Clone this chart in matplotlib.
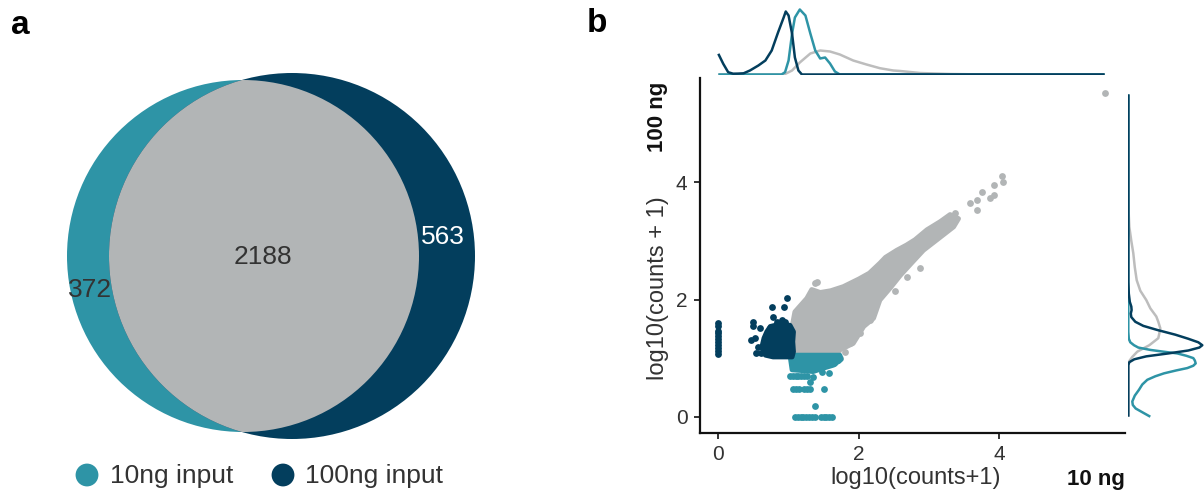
import matplotlib.pyplot as plt
from matplotlib.patches import Circle

plt.rcParams['font.family'] = ['Liberation Sans', 'DejaVu Sans']

TEAL = '#2e94a6'
NAVY = '#033e5d'
GRAY = '#b2b5b6'
GRAY_LINE = '#bdbdbd'
TXT = '#333333'

# ---- panel a: venn counts ----
venn_labels = ['10ng input', '100ng input']
only_10 = 372
both = 2188
only_100 = 563

# ---- panel b: scatter, log10(counts+1) for 10 ng (x) and 100 ng (y) ----
# dense shared genes (outline of the cloud)
gray_cloud_x = [1.07, 1.45, 1.69, 1.73, 1.92, 2.07, 2.21, 2.30, 2.45, 2.59, 2.75, 2.92, 3.20,
                3.35, 3.42, 3.30, 3.16, 2.97, 2.80, 2.68, 2.54, 2.38, 2.30, 2.15, 2.00, 1.78,
                1.60, 1.45, 1.33, 1.26, 1.09, 1.06, 1.06]
gray_cloud_y = [1.02, 1.00, 1.02, 1.14, 1.25, 1.54, 1.68, 1.99, 2.20, 2.41, 2.62, 2.84, 3.10,
                3.24, 3.38, 3.45, 3.33, 3.19, 3.02, 2.93, 2.84, 2.72, 2.62, 2.45, 2.35, 2.22,
                2.15, 2.12, 2.17, 2.02, 1.79, 1.60, 1.30]
gray_pts_x = [1.37, 1.40, 1.73, 1.80, 1.88, 2.02, 2.16, 2.52, 2.68, 2.87, 3.37, 3.58, 3.68,
              3.68, 3.75, 3.87, 3.93, 3.92, 4.04, 4.06, 5.51]
gray_pts_y = [2.28, 2.30, 1.00, 1.10, 1.25, 1.42, 1.65, 2.14, 2.39, 2.53, 3.47, 3.64, 3.70,
              3.53, 3.84, 3.73, 3.78, 3.95, 4.10, 4.01, 5.52]

# genes only detected with 100 ng
navy_core_x = [0.74, 0.88, 1.02, 1.07, 1.06, 1.07, 1.05, 0.78, 0.67, 0.62, 0.65, 0.69]
navy_core_y = [1.54, 1.58, 1.56, 1.45, 1.28, 1.11, 1.02, 1.02, 1.05, 1.19, 1.34, 1.45]
navy_pts_x = [0, 0, 0, 0, 0, 0, 0, 0, 0, 0, 0,
              0.98, 0.77, 0.93, 0.78, 0.90, 0.49, 0.49, 0.60, 0.52, 0.46, 0.57, 0.54, 0.61, 0.74,
              0.84, 0.70, 0.95]
navy_pts_y = [1.07, 1.12, 1.17, 1.22, 1.27, 1.32, 1.37, 1.42, 1.47, 1.55, 1.60,
              2.03, 1.87, 1.88, 1.71, 1.65, 1.61, 1.55, 1.51, 1.34, 1.31, 1.19, 1.08, 1.09, 1.51,
              1.62, 1.28, 1.62]

# genes only detected with 10 ng
teal_core_x = [1.02, 1.73, 1.75, 1.64, 1.50, 1.35, 1.16, 1.05]
teal_core_y = [1.05, 1.05, 0.98, 0.88, 0.83, 0.77, 0.79, 0.80]
teal_pts_x = [1.02, 1.06, 1.10, 1.14, 1.18, 1.22, 1.26,
              1.31, 1.35, 1.47, 1.58, 1.64, 1.71,
              1.07, 1.11, 1.15, 1.22, 1.26, 1.31, 1.50,
              1.37,
              1.09, 1.13, 1.17, 1.21, 1.25, 1.29, 1.34, 1.38, 1.46, 1.50, 1.54, 1.58, 1.62]
teal_pts_y = [0.70, 0.70, 0.70, 0.70, 0.70, 0.70, 0.70,
              0.60, 0.68, 0.77, 0.74, 0.91, 0.97,
              0.48, 0.48, 0.48, 0.48, 0.48, 0.48, 0.48,
              0.19,
              0, 0, 0, 0, 0, 0, 0, 0, 0, 0, 0, 0, 0]

# marginal densities (scaled), x marginal (top)
top_gray_x = [0, 0.90, 0.95, 1.05, 1.16, 1.31, 1.45, 1.59, 1.73, 1.92, 2.11, 2.30, 2.49, 2.59,
              2.87, 3.30, 3.73, 4.00, 5.50]
top_gray_d = [0, 0, 0.5, 4, 12, 21, 24, 23, 20, 14, 10, 6.3, 4, 3.5, 1.5, 0.5, 0.1, 0, 0]
top_teal_x = [0, 0.90, 0.95, 1.00, 1.05, 1.09, 1.16, 1.24, 1.31, 1.38, 1.45, 1.52, 1.59, 1.66,
              1.73, 5.50]
top_teal_d = [0, 0, 2.3, 14, 41, 57, 65, 59, 41, 24, 16, 17, 11, 3, 0, 0]
top_navy_x = [0, 0.07, 0.14, 0.21, 0.28, 0.36, 0.45, 0.57, 0.67, 0.76, 0.85, 0.93, 0.96, 1.00,
              1.05, 1.09, 1.14, 1.19, 5.50]
top_navy_d = [20.7, 10.7, 2.3, 0.8, 0.9, 1.2, 4, 9, 14, 24, 42, 57, 63, 59, 40.7, 17, 4, 0, 0]

# y marginal (right)
right_gray_y = [0, 0.90, 0.95, 1.02, 1.11, 1.22, 1.34, 1.42, 1.51, 1.62, 1.71, 1.85, 1.99,
                2.15, 2.33, 2.55, 2.79, 3.00, 3.24, 3.50, 4.00, 5.50]
right_gray_d = [0, 0, 1, 4, 9, 21, 30, 31, 32, 30, 28, 22, 18, 12, 8.4, 6.5, 5, 3, 1, 0.3, 0, 0]
right_teal_y = [0, 0.06, 0.14, 0.20, 0.26, 0.36, 0.46, 0.55, 0.63, 0.69, 0.74, 0.79, 0.83,
                0.87, 0.91, 0.96, 1.00, 1.04, 1.08, 1.11, 1.14, 1.18, 1.22, 1.27, 1.33, 1.45,
                5.50]
right_teal_d = [22, 15.7, 7.4, 4.5, 4, 6.5, 10.7, 14, 19, 27, 35.7, 48, 59, 65, 67.4, 66.5,
                65, 58, 49, 35, 22, 10, 5.7, 2, 0.5, 0, 0]
right_navy_y = [0, 0.88, 0.93, 0.98, 1.03, 1.08, 1.13, 1.18, 1.22, 1.27, 1.33, 1.40, 1.48,
                1.55, 1.62, 1.70, 1.76, 1.82, 1.88, 1.96, 2.10, 2.30, 5.50]
right_navy_d = [0, 0, 1, 6, 18, 40, 60, 71, 74, 70, 60, 47, 29, 15, 7, 3, 2.5, 3.3, 3, 1.5,
                0.5, 0, 0]

W, H = 1204, 493
fig = plt.figure(figsize=(W / 100, H / 100), dpi=100)

# ---------------- panel a ----------------
ax_v = fig.add_axes([0, 0, 602 / W, 1])
ax_v.set_xlim(0, 602)
ax_v.set_ylim(H, 0)
ax_v.axis('off')

c10 = Circle((243, 256), 176, color=TEAL, lw=0)
c100 = Circle((292, 256), 183, color=NAVY, lw=0)
ax_v.add_patch(c10)
ax_v.add_patch(c100)
inter = Circle((243, 256), 176, color=GRAY, lw=0)
ax_v.add_patch(inter)
clip = Circle((292, 256), 183, transform=ax_v.transData)
inter.set_clip_path(clip)

ax_v.text(90, 290, str(only_10), fontsize=19, color=TXT, ha='center', va='center')
ax_v.text(263, 257, str(both), fontsize=19, color=TXT, ha='center', va='center')
ax_v.text(443, 237, str(only_100), fontsize=19, color='white', ha='center', va='center')

ax_v.scatter([87, 283], [475, 475], s=270, c=[TEAL, NAVY], lw=0, clip_on=False)
ax_v.text(110, 476, venn_labels[0], fontsize=19, color=TXT, ha='left', va='center')
ax_v.text(305, 476, venn_labels[1], fontsize=19, color=TXT, ha='left', va='center')

fig.text(20 / W, 1 - 25 / H, 'a', fontsize=24, fontweight='bold', ha='center', va='center')
fig.text(597 / W, 1 - 24 / H, 'b', fontsize=24, fontweight='bold', ha='center', va='center')

# ---------------- panel b ----------------
ax = fig.add_axes([700 / W, 1 - 433 / H, 425 / W, 355 / H])
poly_kw = dict(lw=3.5, joinstyle='round')
ax.fill(gray_cloud_x, gray_cloud_y, facecolor=GRAY, edgecolor=GRAY, zorder=2, **poly_kw)
ax.scatter(gray_pts_x, gray_pts_y, s=24, color=GRAY, lw=0, zorder=2)
ax.fill(teal_core_x, teal_core_y, facecolor=TEAL, edgecolor=TEAL, zorder=3, **poly_kw)
ax.scatter(teal_pts_x, teal_pts_y, s=24, color=TEAL, lw=0, zorder=3)
ax.fill(navy_core_x, navy_core_y, facecolor=NAVY, edgecolor=NAVY, zorder=4, **poly_kw)
ax.scatter(navy_pts_x, navy_pts_y, s=24, color=NAVY, lw=0, zorder=4)

ax.set_xlim(-0.261, 5.79)
ax.set_ylim(-0.278, 5.78)
ax.set_xticks([0, 2, 4])
ax.set_yticks([0, 2, 4])
for s in ['top', 'right']:
    ax.spines[s].set_visible(False)
for s in ['left', 'bottom']:
    ax.spines[s].set_linewidth(1.6)
    ax.spines[s].set_color('#111111')
ax.tick_params(length=4, width=1.2, colors='#111111', labelcolor=TXT, labelsize=15, pad=5)

fig.text(658 / W, 1 - 288 / H, 'log10(counts + 1)', rotation=90, fontsize=17, color=TXT,
         ha='center', va='center')
fig.text(658 / W, 1 - 117 / H, '100 ng', rotation=90, fontsize=16, fontweight='bold',
         color='#111111', ha='center', va='center')
fig.text(916 / W, 1 - 478 / H, 'log10(counts+1)', fontsize=17, color=TXT,
         ha='center', va='center')
fig.text(1096 / W, 1 - 480 / H, '10 ng', fontsize=16, fontweight='bold', color='#111111',
         ha='center', va='center')

# top marginal
ax_t = fig.add_axes([700 / W, 1 - 74.5 / H, 425 / W, 70.5 / H], sharex=ax)
ax_t.plot(top_gray_x, top_gray_d, color=GRAY_LINE, lw=1.8, solid_capstyle='butt')
ax_t.plot(top_teal_x, top_teal_d, color=TEAL, lw=1.8, solid_capstyle='butt')
ax_t.plot(top_navy_x, top_navy_d, color=NAVY, lw=1.8, solid_capstyle='butt')
ax_t.set_ylim(0, 70.5)
ax_t.axis('off')

# right marginal
ax_r = fig.add_axes([1128.3 / W, 1 - 433 / H, (W - 1128.3) / W, 355 / H], sharey=ax)
ax_r.plot(right_gray_d, right_gray_y, color=GRAY_LINE, lw=1.8, solid_capstyle='butt')
ax_r.plot(right_teal_d, right_teal_y, color=TEAL, lw=1.8, solid_capstyle='butt')
ax_r.plot(right_navy_d, right_navy_y, color=NAVY, lw=1.8, solid_capstyle='butt')
ax_r.set_xlim(0, 75.7)
ax_r.axis('off')

fig.savefig('out.png', dpi=100)
